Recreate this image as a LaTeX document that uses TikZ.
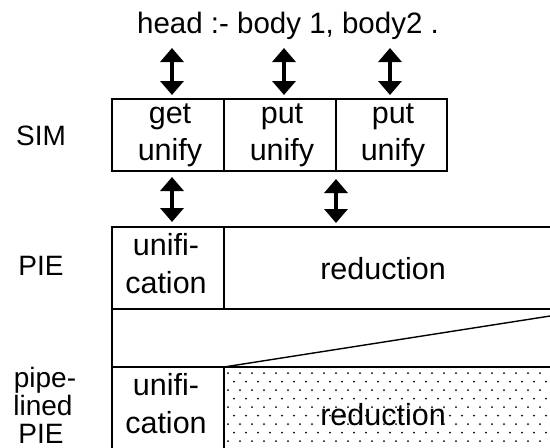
\documentclass[tikz,border=0pt]{standalone}
\usepackage{fontspec}
\setmainfont{Liberation Sans}
\usetikzlibrary{arrows.meta,calc}
\begin{document}
\begin{tikzpicture}[x=1pt,y=-1pt,
  cell/.style={draw, line width=1.4pt, rectangle, inner sep=0pt, outer sep=0pt, anchor=north west},
  txt/.style={anchor=base, inner sep=0pt, font=\fontsize{30.5}{36}\selectfont},
  lab/.style={anchor=base, inner sep=0pt, font=\fontsize{28}{34}\selectfont},
  ttl/.style={anchor=base, inner sep=0pt, font=\fontsize{29.5}{36}\selectfont},
  dbl/.style={{Triangle[width=23pt,length=14pt]}-{Triangle[width=23pt,length=14pt]}, line width=3.8pt},
  edge/.style={line width=1.4pt},
]
\useasboundingbox (0,0) rectangle (550,448);
\begin{scope}
\clip (0,0) rectangle (550,448);

% title
\node[ttl] (title) at (288,33) {head :- body 1, body2 .};

% SIM row
\node[cell, minimum width=112pt, minimum height=72pt] (g1) at (112,99) {};
\node[cell, minimum width=112pt, minimum height=72pt] (g2) at (224,99) {};
\node[cell, minimum width=111pt, minimum height=72pt] (g3) at (336,99) {};
\node[txt] (g1a) at (170,123) {get};
\node[txt] (g1b) at (170,160) {unify};
\node[txt] (g2a) at (282,123) {put};
\node[txt] (g2b) at (282,160) {unify};
\node[txt] (g3a) at (393,123) {put};
\node[txt] (g3b) at (393,160) {unify};

% arrows title <-> SIM
\coordinate (t1) at (172,48); \coordinate (s1) at (172,95);
\coordinate (t2) at (284,48); \coordinate (s2) at (284,95);
\coordinate (t3) at (390,48); \coordinate (s3) at (390,95);
\draw[dbl] (t1) -- (s1);
\draw[dbl] (t2) -- (s2);
\draw[dbl] (t3) -- (s3);

% arrows SIM <-> PIE
\coordinate (u1) at (172,177); \coordinate (p1) at (172,222);
\coordinate (u2) at (336,179); \coordinate (p2) at (336,223);
\draw[dbl] (u1) -- (p1);
\draw[dbl] (u2) -- (p2);

% PIE row
\node[cell, minimum width=112pt, minimum height=82pt] (pu) at (112,227) {};
\node[cell, minimum width=340pt, minimum height=82pt] (pr) at (224,227) {};
\node[txt] (pua) at (166,255) {unifi-};
\node[txt] (pub) at (166,293) {cation};
\node[txt] (prt) at (383,279) {reduction};

% middle band
\node[cell, minimum width=452pt, minimum height=58pt] (band) at (112,309) {};

% pipelined row
\foreach \r in {0,...,9} {
  \foreach \c in {0,...,27} {
    \fill ({228+12*\c+6*mod(\r,2)}, {373+8.5*\r}) circle (1pt);
  }
}
\node[cell, minimum width=112pt, minimum height=82pt] (qu) at (112,367) {};
\node[cell, minimum width=340pt, minimum height=82pt] (qr) at (224,367) {};
\node[txt] (qrt) at (383,425) {reduction};
\node[txt] (qua) at (166,395) {unifi-};
\node[txt] (qub) at (166,433) {cation};

% diagonal
\coordinate (dend) at (552,315.7);
\draw[edge] (qr.north west) -- (dend);

% left labels
\node[lab] (lsim) at (41,145) {SIM};
\node[lab] (lpie) at (41,275) {PIE};
\node[lab] (lp1) at (45,387) {pipe-};
\node[lab] (lp2) at (43,415) {lined};
\node[lab] (lp3) at (41,443) {PIE};
\end{scope}
\end{tikzpicture}
\end{document}
